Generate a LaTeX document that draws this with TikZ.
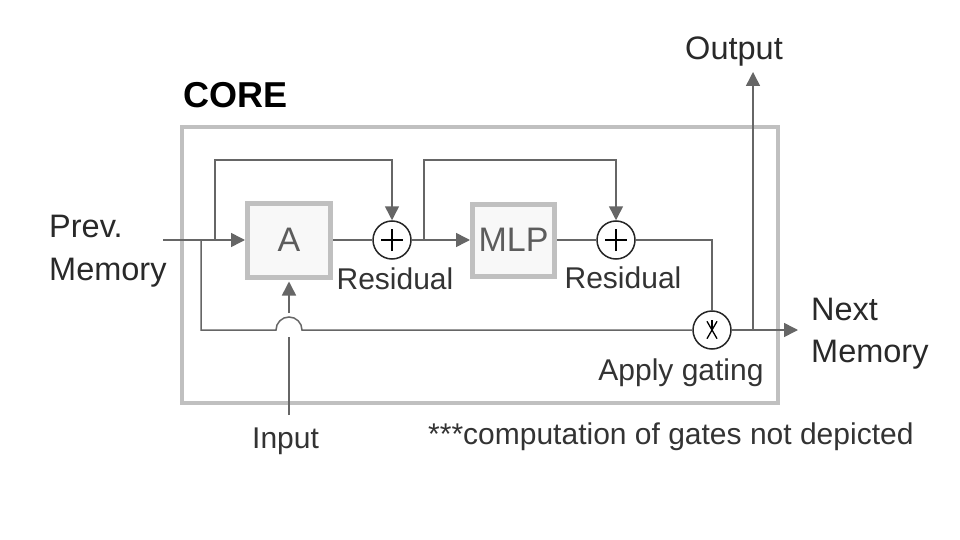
\documentclass[tikz,border=0pt]{standalone}
\usepackage{fontspec}
\setmainfont{Liberation Sans}
\usetikzlibrary{arrows.meta}
\definecolor{boxgray}{HTML}{C0C0C0}
\definecolor{boxfill}{HTML}{F8F8F8}
\definecolor{linegray}{HTML}{666666}
\definecolor{txt}{HTML}{333333}
\tikzset{
  lbl/.style={inner sep=0pt, anchor=base west, text=txt, font=\fontsize{30}{36}\selectfont},
  lblc/.style={inner sep=0pt, anchor=base, text=txt, font=\fontsize{30}{36}\selectfont},
  biglbl/.style={inner sep=0pt, anchor=base west, text=txt!80!black, font=\fontsize{32.5}{38}\selectfont},
  blockbox/.style={draw=boxgray, line width=5pt, fill=boxfill, text=linegray!90!black,
    font=\fontsize{34}{40}\selectfont, inner sep=0pt},
  opcirc/.style={circle, draw=black!85, line width=1.5pt, fill=white, minimum size=38pt, inner sep=0pt},
  sym/.style={draw=black, line width=2pt},
  conn/.style={draw=linegray, line width=1.5pt},
  arr/.style={conn, -{Triangle[length=14pt,width=14pt]}},
}
\begin{document}
\begin{tikzpicture}[x=1pt,y=-1pt]
\useasboundingbox (0,0) rectangle (960,540);
% core box
\node[draw=boxgray, line width=4pt, minimum width=596pt, minimum height=276pt, inner sep=0pt] (core) at (480,265) {};
\node[inner sep=0pt, anchor=base west, font=\fontsize{36}{42}\selectfont\bfseries] (corelbl) at (183,108) {CORE};
% blocks
\node[blockbox, minimum width=83pt, minimum height=74pt] (A) at (289,240) {A};
\node[blockbox, minimum width=82pt, minimum height=72pt] (MLP) at (513.5,240) {MLP};
\node[opcirc] (p1) at (392,240) {};
\node[opcirc] (p2) at (616,240) {};
\node[opcirc] (g) at (712,330) {};
% symbols
\draw[sym] ([xshift=-11pt]p1.center) -- ([xshift=11pt]p1.center);
\draw[sym] ([yshift=-11pt]p1.center) -- ([yshift=11pt]p1.center);
\draw[sym] ([xshift=-11pt]p2.center) -- ([xshift=11pt]p2.center);
\draw[sym] ([yshift=-11pt]p2.center) -- ([yshift=11pt]p2.center);
\draw[draw=black, line width=1.3pt] ([shift={(270:10)}]g.center) -- (g.center);
\draw[draw=black, line width=1.3pt] ([shift={(60:10)}]g.center) -- ([shift={(240:10)}]g.center);
\draw[draw=black, line width=1.3pt] ([shift={(120:10)}]g.center) -- ([shift={(300:10)}]g.center);
% labels
\node[biglbl] (prev) at (49,237) {Prev.};
\node[biglbl] (prevmem) at (49,280) {Memory};
\node[biglbl] (next) at (811,320) {Next};
\node[biglbl] (nextmem) at (811,362) {Memory};
\node[lblc] (res1) at (395,289) {Residual};
\node[lblc] (res2) at (623,288) {Residual};
\node[lblc] (gatelbl) at (681,380) {Apply gating};
\node[biglbl, anchor=base] (output) at (734,60) {Output};
\node[lbl] (input) at (252,448) {Input};
\node[lbl] (note) at (428,444) {***computation of gates not depicted};
% coordinates
\coordinate (previn) at (163,240);
\coordinate (b1) at (215,240);
\coordinate (t1) at (215,160);
\coordinate (b2) at (201,240);
\coordinate (hump) at (276,330);
\coordinate (b3) at (424,240);
\coordinate (t3) at (424,160);
\coordinate (b4) at (753,330);
\coordinate (outtip) at (753,72);
\coordinate (nexttip) at (798,330);
\coordinate (inbot) at (289,415);
\coordinate (inlow) at (289,337);
\coordinate (inhigh) at (289,313);
% connectors
\draw[arr] (previn) -- (A.west);
\draw[arr] (b1) -- (t1) -| (p1.north);
\draw[conn] (b2) |- (hump) arc[start angle=180, end angle=360, radius=13] -- (g.west);
\draw[conn] (A.east) -- (p1.west);
\draw[arr] (p1.east) -- (MLP.west);
\draw[arr] (b3) -- (t3) -| (p2.north);
\draw[conn] (MLP.east) -- (p2.west);
\draw[conn] (p2.east) -| (g.north);
\draw[arr] (g.east) -- (nexttip);
\draw[arr] (b4) -- (outtip);
\draw[conn] (inbot) -- (inlow);
\draw[arr, shorten >=2pt] (inhigh) -- (A.south);
\end{tikzpicture}
\end{document}
